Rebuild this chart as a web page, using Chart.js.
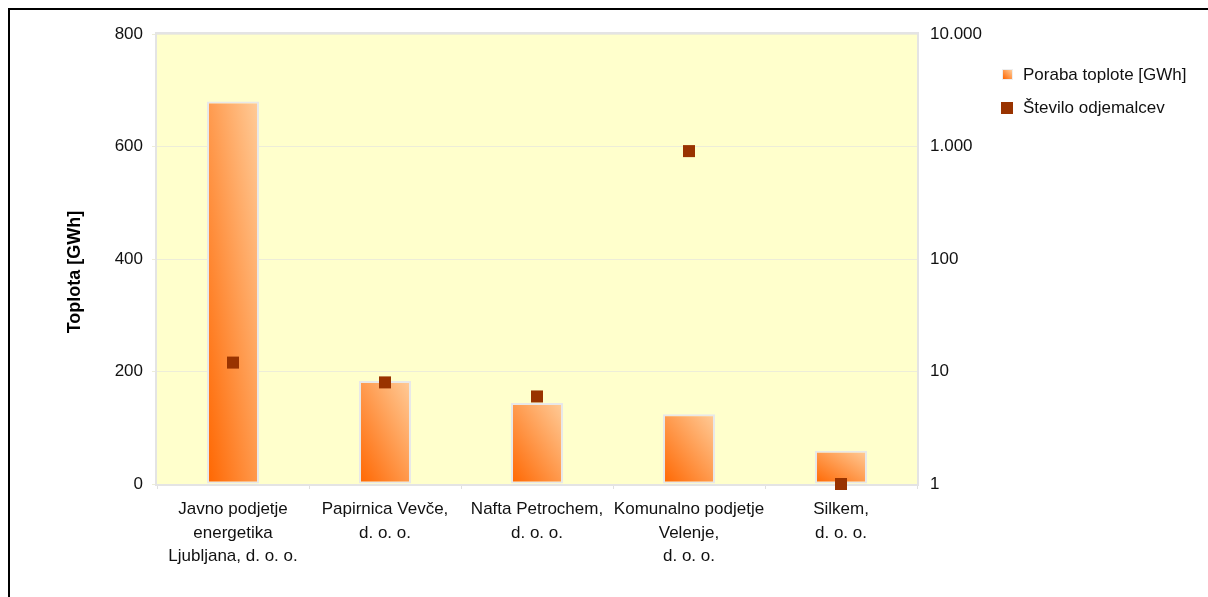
<!DOCTYPE html>
<html>
<head>
<meta charset="utf-8">
<script src="https://cdn.jsdelivr.net/npm/chart.js@4.4.1/dist/chart.umd.min.js"></script>
<style>
  html, body { margin: 0; padding: 0; background: #fff; overflow: hidden; }
  #wrap { position: relative; width: 1208px; height: 597px; }
  #frame { position: absolute; left: 8px; top: 8px; width: 1400px; height: 800px;
           border: 2px solid #000; pointer-events: none; }
  #legend { position: absolute; left: 1001px; top: 58px; font: 17px 'Liberation Sans', Arial, sans-serif; color: #111; }
  #legend .row { display: flex; align-items: center; height: 33px; }
  #legend .mk { width: 12px; height: 12px; margin-right: 10px; box-sizing: border-box; }
  #legend .mk.bar { width: 11px; height: 11px; margin: 0 10px 0 1px;
                    background: linear-gradient(to top right, #ff6600, #ffcc99); border: 1px solid #eee; }
  #legend .mk.pt { background: #993300; }
</style>
</head>
<body>
<div id="wrap">
  <canvas id="chart" width="1208" height="597"></canvas>
  <div id="frame"></div>
  <div id="legend"></div>
</div>
<script>
// ---- data ----
const companies = [
  ['Javno podjetje', 'energetika', 'Ljubljana, d. o. o.'],
  ['Papirnica Vevče,', 'd. o. o.'],
  ['Nafta Petrochem,', 'd. o. o.'],
  ['Komunalno podjetje', 'Velenje,', 'd. o. o.'],
  ['Silkem,', 'd. o. o.'],
];
const heatGWh   = [680, 183, 144, 124, 59];   // Poraba toplote [GWh]
const customers = [12, 8, 6, 910, 1];         // Število odjemalcev
const heatTicks = [0, 200, 400, 600, 800];
const countTicks = [1, 10, 100, 1000, 10000];
const seriesNames = ['Poraba toplote [GWh]', 'Število odjemalcev'];
const heatAxisTitle = 'Toplota [GWh]';

const FONT = "'Liberation Sans', Arial, sans-serif";
const BAR_FRACTION = 0.342;

// thousands separator as a dot
function fmtThousands(v) {
  return String(Math.round(v)).replace(/\B(?=(\d{3})+(?!\d))/g, '.');
}

// diagonal gradient per bar: dark orange bottom-left → peach top-right
function barGradient(c) {
  const chart = c.chart;
  const xs = chart.scales.x, ys = chart.scales.y;
  if (!chart.chartArea || !xs || !ys) return '#ff9966';
  const v = c.dataset.data[c.dataIndex];
  const cx = xs.getPixelForValue(c.dataIndex);
  const w = xs.width / companies.length * BAR_FRACTION;
  const top = ys.getPixelForValue(v), bottom = ys.getPixelForValue(0);
  const h = Math.max(1, bottom - top);
  const cy = (top + bottom) / 2;
  const n = Math.hypot(w, h);
  const dx = h / n, dy = -w / n;
  const half = (w * h) / n;
  const g = chart.ctx.createLinearGradient(cx - dx * half, cy - dy * half, cx + dx * half, cy + dy * half);
  g.addColorStop(0, '#ff6600');
  g.addColorStop(1, '#ffcc99');
  return g;
}

// plot background, frame and the rotated left-axis title
const plotFrame = {
  id: 'plotFrame',
  beforeDraw(chart) {
    const { ctx, chartArea: a } = chart;
    ctx.save();
    ctx.fillStyle = '#ffffcc';
    ctx.fillRect(a.left, a.top, a.right - a.left, a.bottom - a.top);
    ctx.restore();
  },
  beforeDatasetsDraw(chart) {
    const { ctx, chartArea: a } = chart;
    ctx.save();
    ctx.strokeStyle = '#e4e4e4';
    ctx.lineWidth = 2;
    ctx.strokeRect(a.left - 1, a.top - 1, a.right - a.left + 2, a.bottom - a.top + 2);
    ctx.restore();
  },
  afterDraw(chart) {
    const { ctx } = chart;
    ctx.save();
    ctx.translate(75, 272);
    ctx.rotate(-Math.PI / 2);
    ctx.font = `bold 18px ${FONT}`;
    ctx.fillStyle = '#000';
    ctx.textAlign = 'center';
    ctx.textBaseline = 'middle';
    ctx.fillText(heatAxisTitle, 0, 0);
    ctx.restore();
  },
};

new Chart(document.getElementById('chart'), {
  data: {
    labels: companies,
    datasets: [
      {
        type: 'line',
        label: seriesNames[1],
        data: customers,
        yAxisID: 'y1',
        showLine: false,
        clip: false,
        pointStyle: 'rect',
        pointRadius: 8.5,
        pointBorderWidth: 0,
        pointBackgroundColor: '#993300',
        borderColor: '#993300',
      },
      {
        type: 'bar',
        label: seriesNames[0],
        data: heatGWh,
        yAxisID: 'y',
        backgroundColor: barGradient,
        borderColor: '#e8e8e8',
        borderWidth: 2,
        borderSkipped: false,
        barPercentage: BAR_FRACTION,
        categoryPercentage: 1,
      },
    ],
  },
  options: {
    responsive: false,
    animation: false,
    devicePixelRatio: 1,
    layout: { padding: { top: 34, left: 60, right: 0, bottom: 0 } },
    plugins: { legend: { display: false }, tooltip: { enabled: false } },
    scales: {
      x: {
        offset: true,
        grid: { drawOnChartArea: false, drawTicks: true, tickLength: 5, color: '#e0e0e0', offset: true },
        border: { display: false },
        ticks: { color: '#111', font: { family: FONT, size: 17, lineHeight: 1.38 }, padding: 9, maxRotation: 0, autoSkip: false },
        afterFit(s) { s.height = 113; },
      },
      y: {
        position: 'left',
        min: 0, max: 800,
        afterBuildTicks(s) { s.ticks = heatTicks.map(v => ({ value: v })); },
        grid: { color: '#ededd8', lineWidth: 1, tickLength: 5 },
        border: { display: false },
        ticks: { color: '#111', font: { family: FONT, size: 17 }, padding: 9 },
        afterFit(s) { s.width = 97; },
      },
      y1: {
        type: 'logarithmic',
        position: 'right',
        min: 1, max: 10000,
        afterBuildTicks(s) { s.ticks = countTicks.map(v => ({ value: v })); },
        grid: { display: false, drawTicks: false },
        border: { display: false },
        ticks: { color: '#111', font: { family: FONT, size: 17 }, padding: 13, callback: v => fmtThousands(v) },
        afterFit(s) { s.width = 291; },
      },
    },
  },
  plugins: [plotFrame],
});

// legend
const legend = document.getElementById('legend');
legend.innerHTML =
  `<div class="row"><span class="mk bar"></span>${seriesNames[0]}</div>` +
  `<div class="row"><span class="mk pt"></span>${seriesNames[1]}</div>`;
</script>
</body>
</html>
